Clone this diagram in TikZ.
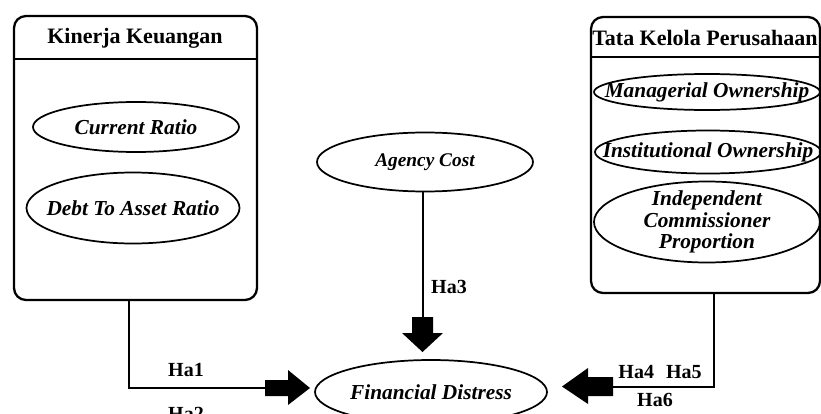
\documentclass[tikz,border=0pt]{standalone}
\usepackage{fontspec}
\setmainfont{Liberation Serif}
\usetikzlibrary{shapes.geometric}
\begin{document}
\begin{tikzpicture}[x=0.75pt,y=-0.75pt,
  box/.style={draw,line width=1.7pt,rounded corners=9pt,rectangle,inner sep=0pt},
  ell/.style={draw,line width=1.3pt,ellipse,inner sep=0pt},
  etext/.style={font=\fontsize{16}{16}\selectfont\bfseries\itshape,align=center},
  head/.style={font=\fontsize{16.5}{18}\selectfont\bfseries,inner sep=0pt},
  lab/.style={font=\fontsize{15}{16}\selectfont\bfseries,inner sep=0pt},
  conn/.style={line width=1.5pt},
  blk/.style={fill=black}]
\useasboundingbox (0,0) rectangle (821,414);
% boxes
\node[box,minimum width=182.25pt,minimum height=213pt] (lb) at (135.5,158) {};
\node[box,minimum width=171.75pt,minimum height=207pt] (rb) at (705.5,155) {};
\coordinate (lh) at (0,59);
\coordinate (rh) at (0,57);
\draw[line width=1.7pt] (lb.west |- lh) -- (lb.east |- lh);
\draw[line width=1.7pt] (rb.west |- rh) -- (rb.east |- rh);
\node[head] (lt) at (135,38) {Kinerja Keuangan};
\node[head,anchor=west] (rt) at (592,38) {Tata Kelola Perusahaan};
% ellipses
\node[ell,minimum width=154.5pt,minimum height=37.5pt,label={[etext]center:Current Ratio}] (cr) at (136,127) {};
\node[ell,minimum width=159.75pt,minimum height=53.25pt,label={[etext]center:Debt To Asset Ratio}] (dta) at (133,208) {};
\node[ell,minimum width=162pt,minimum height=44.25pt,label={[etext,font=\fontsize{14.5}{15}\selectfont\bfseries\itshape]center:Agency Cost}] (ac) at (425,162) {};
\node[ell,minimum width=169.5pt,minimum height=27pt,label={[etext]center:Managerial Ownership}] (mo) at (707,92) {};
\node[ell,minimum width=169.5pt,minimum height=32.25pt,label={[etext]center:Institutional Ownership}] (io) at (708,152) {};
\node[ell,minimum width=169.5pt,minimum height=60.75pt,label={[etext]center:Independent\\Commissioner\\Proportion}] (icp) at (707,222) {};
\node[ell,minimum width=174pt,minimum height=48pt,label={[etext]center:Financial Distress}] (fd) at (431,392) {};
% connector end points
\coordinate (lx) at (129,0);
\coordinate (rx) at (714,0);
\coordinate (a1) at (265,388);
\coordinate (a3) at (422.5,317);
\coordinate (a4) at (613,386.5);
\draw[conn] (lb.south -| lx) |- (a1);
\draw[conn] (ac.south -| a3) -- (a3);
\draw[conn] (rb.south -| rx) |- (a4);
% block arrows
\fill[blk] (265,380) -- (288,380) -- (288,370) -- (310,388) -- (288,405) -- (288,396) -- (265,396) -- cycle;
\fill[blk] (412,317) -- (433,317) -- (433,333) -- (443,333) -- (422.5,352) -- (402,333) -- (412,333) -- cycle;
\fill[blk] (613,377) -- (588,377) -- (588,368) -- (562,386.5) -- (588,404) -- (588,396) -- (613,396) -- cycle;
% labels
\node[lab] (h1) at (186,370) {Ha1};
\node[lab] (h2) at (186,414) {Ha2};
\node[lab] (h3) at (449,287) {Ha3};
\node[lab] (h45) at (660,372) {Ha4\hspace{0.6em}Ha5};
\node[lab] (h6) at (655,400) {Ha6};
\end{tikzpicture}
\end{document}
